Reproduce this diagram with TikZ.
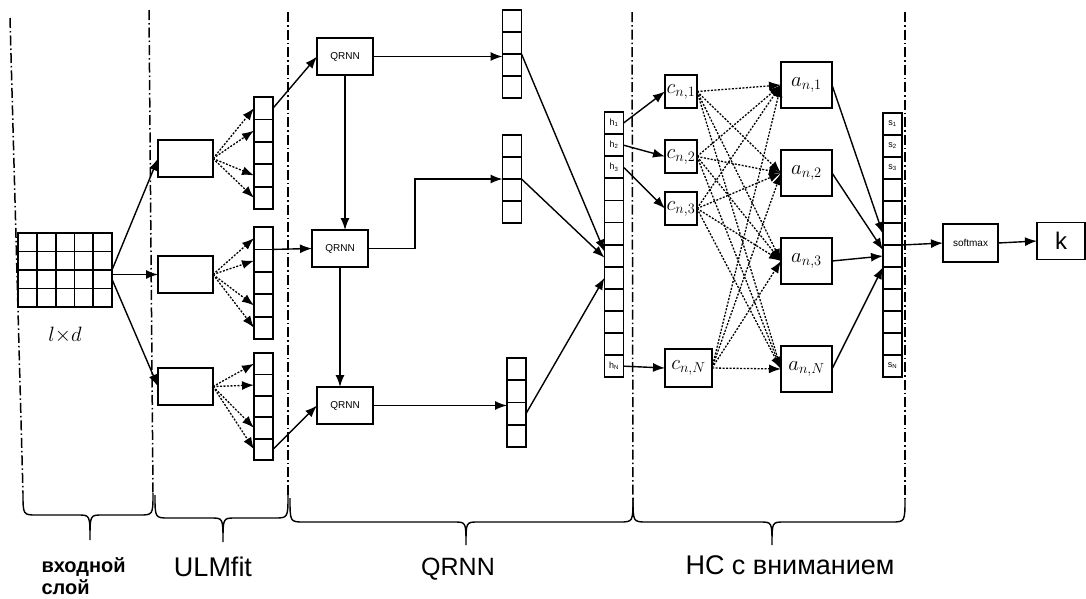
\documentclass[tikz,border=0pt]{standalone}
\usepackage{fontspec}
\setmainfont{Liberation Sans}
\usetikzlibrary{positioning,arrows.meta,calc}

% x1, tip x, x2, top y, flat y, tip y
\newcommand{\curlybrace}[6]{%
  \draw[braceLine] (#1,#4) .. controls (#1,#5) .. ({#1+14},#5) -- ({#2-12},#5)
    .. controls (#2,#5) .. (#2,#6) .. controls (#2,#5) .. ({#2+12},#5)
    -- ({#3-14},#5) .. controls (#3,#5) .. (#3,#4);}

\begin{document}
\begin{tikzpicture}[x=1pt, y=-1pt, >={Latex[length=12pt,width=9pt]},
    box/.style={draw, line width=1.8pt, inner sep=0pt, outer sep=0pt},
    cell/.style={box, minimum width=19pt},
    conn/.style={->, line width=1.4pt},
    dotconn/.style={->, line width=1.3pt, dash pattern=on 2pt off 1.5pt},
    divider/.style={line width=1.5pt, dash pattern=on 10pt off 3pt on 1.5pt off 3pt},
    braceLine/.style={line width=1.4pt},
    mathLbl/.style={font=\fontsize{20}{20}\selectfont},
    smallTxt/.style={font=\fontsize{10}{10}\selectfont},
    vecLbl/.style={font=\fontsize{9}{9}\selectfont},
    partLbl/.style={font=\fontsize{27}{27}\selectfont}]
  \useasboundingbox (0,0) rectangle (1086,598);

  % section dividers
  \draw[divider] (10,18) -- (23,493);
  \draw[divider] (149,10) -- (153,493);
  \draw[divider] (288,12) -- (288,497);
  \draw[divider] (632,12) -- (633,500);
  \draw[divider] (905,12) -- (905,498);

  % input matrix
  \foreach \row in {1,...,4}
    \foreach \col in {1,...,5}
      \node[box, minimum width=18.8pt, minimum height=18.5pt] (g\row\col)
        at ({18+18.8*(\col-0.5)},{233+18.5*(\row-0.5)}) {};
  \node[mathLbl] (gridLbl) at (65,335) {$l{\times}d$};

  % ULMfit
  \foreach \k/\y in {1/158.5, 2/274.5, 3/386.5}
    \node[box, minimum width=55pt, minimum height=37pt] (ub\k) at (185.5,\y) {};
  \foreach \k/\t/\h in {1/97/22.4, 2/227/22.4, 3/353/21.4}
    \foreach \i in {1,...,5}
      \node[cell, minimum height=\h*1pt] (uv\k-\i) at (263.5,{\t+\h*(\i-0.5)}) {};

  \draw[conn] (g25.south east) -- (ub1.west);
  \draw[conn] (ub2.west -| g35.east) -- (ub2.west);
  \draw[conn] (g35.east) -- (ub3.west);
  \foreach \k in {1,2,3}
    \foreach \i in {1,2,4,5}
      \draw[dotconn] (ub\k.east) -- (uv\k-\i.west);

  % QRNN
  \node[box, minimum width=56pt, minimum height=37pt, smallTxt] (qr1) at (345,56.5) {QRNN};
  \node[box, minimum width=56pt, minimum height=37pt, smallTxt] (qr2) at (340,248.5) {QRNN};
  \node[box, minimum width=56pt, minimum height=37pt, smallTxt] (qr3) at (345,405.5) {QRNN};

  \draw[conn] (uv1-1.east) -- (qr1.west);
  \draw[conn] (uv2-1.south east) -- (qr2.west);
  \draw[conn] (uv3-5.east) -- (qr3.west);
  \draw[conn] (qr1.south) -- (qr1.south |- qr2.north);
  \draw[conn] (qr2.south) -- (qr2.south |- qr3.north);

  \foreach \i in {1,...,4} {
    \node[cell, minimum height=22pt] (qa-\i) at (512,{10+22*(\i-0.5)}) {};
    \node[cell, minimum height=22pt] (qb-\i) at (512,{135+22*(\i-0.5)}) {};
    \node[cell, minimum height=22.25pt] (qc-\i) at (516.5,{358+22.25*(\i-0.5)}) {};
  }
  \draw[conn] (qr1.east) -- (qr1.east -| qa-1.west);
  \draw[conn] (qr2.east) -- ++(47,0) |- (qb-2.south west);
  \draw[conn] (qr3.east) -- (qr3.east -| qc-1.west);

  % hidden states
  \foreach \i in {1,...,12}
    \node[cell, minimum height=22.1pt] (h\i) at (614,{112+22.1*(\i-0.5)}) {};
  \foreach \i/\s in {1/1, 2/2, 3/3, 12/N}
    \node[vecLbl] (hl\i) at (h\i) {h\textsubscript{\s}};

  \draw[conn] (qa-2.south east) -- ([yshift=4pt]h7.west);
  \draw[conn] (qb-2.south east) -- ([yshift=-2pt]h7.west);
  \draw[conn] (qc-3.east) -- (h8.west);

  % attention
  \node[box, minimum width=32pt, minimum height=33pt, mathLbl] (c1) at (681,91.5) {$c_{n,1}$};
  \node[box, minimum width=32pt, minimum height=33pt, mathLbl] (c2) at (681,156.5) {$c_{n,2}$};
  \node[box, minimum width=32pt, minimum height=33pt, mathLbl] (c3) at (681,208.5) {$c_{n,3}$};
  \node[box, minimum width=47pt, minimum height=38pt, mathLbl] (cN) at (688.5,368) {$c_{n,N}$};

  \node[box, minimum width=51pt, minimum height=46pt, mathLbl] (a1) at (806.5,85) {$a_{n,1}$};
  \node[box, minimum width=51pt, minimum height=46pt, mathLbl] (a2) at (806.5,173) {$a_{n,2}$};
  \node[box, minimum width=51pt, minimum height=46pt, mathLbl] (a3) at (806.5,261) {$a_{n,3}$};
  \node[box, minimum width=51pt, minimum height=46pt, mathLbl] (aN) at (806.5,369) {$a_{n,N}$};

  \draw[conn] (h1.east) -- (c1.west);
  \draw[conn] (h2.east) -- (c2.west);
  \draw[conn] (h3.east) -- (c3.west);
  \draw[conn] (h12.east) -- (cN.west);
  \foreach \s in {1,2,3,N}
    \foreach \t in {1,2,3,N}
      \draw[dotconn] (c\s.east) -- (a\t.west);

  \foreach \i in {1,...,12}
    \node[cell, minimum height=22pt] (s\i) at (892.5,{113+22*(\i-0.5)}) {};
  \foreach \i/\s in {1/1, 2/2, 3/3, 12/N}
    \node[vecLbl] (sl\i) at (s\i) {s\textsubscript{\s}};

  \draw[conn] (a1.east) -- (s6.west);
  \draw[conn] (a2.east) -- ([yshift=-5pt]s6.south west);
  \draw[conn] (a3.east) -- (s7.west);
  \draw[conn] (aN.east) -- (s7.south west);

  % output
  \node[box, minimum width=55pt, minimum height=38pt, smallTxt] (soft) at (970.5,243) {softmax};
  \node[box, minimum width=48pt, minimum height=37pt, font=\fontsize{24}{24}\selectfont] (kOut) at (1061,241) {k};
  \draw[conn] (s6.south east) -- (soft.west);
  \draw[conn] (soft.east) -- (kOut.west);

  % braces and captions
  \curlybrace{23}{90}{153}{493}{515}{540}
  \curlybrace{155}{223}{288}{495}{518}{542}
  \curlybrace{290}{466}{633}{498}{522}{545}
  \curlybrace{633}{772}{905}{498}{522}{545}

  \node[font=\bfseries\fontsize{20}{22}\selectfont, align=left, anchor=west] (inLbl) at (38,576) {входной\\слой};
  \node[partLbl] (ulmLbl) at (213,567) {ULMfit};
  \node[partLbl, font=\fontsize{25}{25}\selectfont] (qrLbl) at (458,569) {QRNN};
  \node[partLbl] (attLbl) at (790,565) {НС с вниманием};
\end{tikzpicture}
\end{document}
